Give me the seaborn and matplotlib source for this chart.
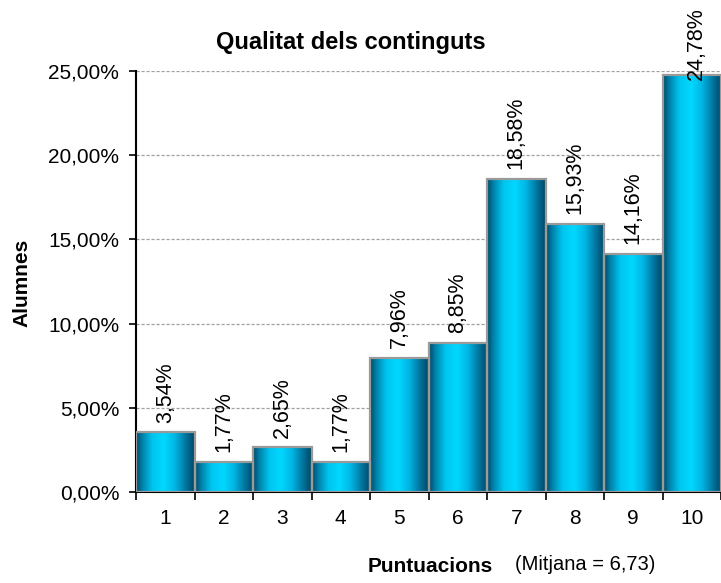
import numpy as np
import pandas as pd
import matplotlib
matplotlib.use("Agg")
import matplotlib.pyplot as plt
import matplotlib.transforms as mtransforms
from matplotlib.colors import LinearSegmentedColormap
import seaborn as sns

categories = ["1", "2", "3", "4", "5", "6", "7", "8", "9", "10"]
values = [3.54, 1.77, 2.65, 1.77, 7.96, 8.85, 18.58, 15.93, 14.16, 24.78]
labels = ["3,54%", "1,77%", "2,65%", "1,77%", "7,96%", "8,85%", "18,58%", "15,93%", "14,16%", "24,78%"]
yticks = [0, 5, 10, 15, 20, 25]
ytick_labels = ["0,00%", "5,00%", "10,00%", "15,00%", "20,00%", "25,00%"]

sns.set_theme(style="white")
plt.rcParams['font.family'] = ['Liberation Sans', 'DejaVu Sans']
plt.rcParams['text.color'] = 'black'
plt.rcParams['axes.labelcolor'] = 'black'
plt.rcParams['xtick.color'] = 'black'
plt.rcParams['ytick.color'] = 'black'

df = pd.DataFrame({"Puntuacio": categories, "Alumnes": values})

fig = plt.figure(figsize=(7.21, 5.83), dpi=100)
ax = fig.add_axes([136/721, 91/583, 1 - 136/721, (492-71)/583])

sns.barplot(data=df, x="Puntuacio", y="Alumnes", ax=ax, width=1.0,
            color="#00bfe8", edgecolor="#9a9a9a", linewidth=1.6, zorder=3)

cmap = LinearSegmentedColormap.from_list(
    "cyl", [(0.0, "#004a64"), (0.1, "#007ea6"), (0.28, "#00c6f0"), (0.48, "#00d8ff"),
            (0.66, "#00b6e4"), (0.86, "#00709a"), (1.0, "#00465f")])
grad = np.linspace(0, 1, 256).reshape(1, -1)
for p in ax.patches:
    x0, y0 = p.get_x(), p.get_y()
    w, h = p.get_width(), p.get_height()
    im = ax.imshow(grad, cmap=cmap, aspect="auto", extent=[x0, x0 + w, y0, y0 + h],
                   zorder=3.5, interpolation="bicubic")
    im.set_clip_path(p)
    p.set_facecolor("none")
    p.set_zorder(4)

ax.set_xlim(-0.5, 9.5)
ax.set_ylim(0, 25)
ax.set_yticks(yticks)
ax.set_yticklabels(ytick_labels, fontsize=15)
ax.yaxis.grid(True, linestyle=(0, (2.5, 1.5)), color="#a0a0a0", linewidth=0.9, zorder=0)
ax.set_axisbelow(True)

ax.set_xticks(range(len(categories)))
ax.set_xticklabels(categories, fontsize=15)
ax.set_xticks(np.arange(-0.5, 10, 1.0), minor=True)
ax.tick_params(axis="x", which="major", length=0, pad=12)
ax.tick_params(axis="x", which="minor", length=6, width=1.2, color="black", direction="out", bottom=True)
ax.tick_params(axis="y", which="major", length=5, width=1.2, color="black", direction="out", left=True, pad=7)

for s in ["top", "right"]:
    ax.spines[s].set_visible(False)
for s in ["left", "bottom"]:
    ax.spines[s].set_color("black")
    ax.spines[s].set_linewidth(1.5)

trans = mtransforms.blended_transform_factory(ax.transData, ax.transAxes)
for i, (v, lab) in enumerate(zip(values, labels)):
    if v > 24:
        ax.text(i + 0.08, 1.152, lab, rotation=90, ha="center", va="top",
                fontsize=15.5, transform=trans, zorder=6, clip_on=False)
    else:
        ax.annotate(lab, (i, v), xytext=(0, 7), textcoords="offset points",
                    rotation=90, ha="center", va="bottom", fontsize=15.5, zorder=6)

ax.set_xlabel("")
ax.set_ylabel("")
fig.text(22/721, 1 - 283/583, "Alumnes", rotation=90, ha="center", va="center",
         fontsize=15, fontweight="bold")

fig.text(351/721, 1 - 42/583, "Qualitat dels continguts", ha="center", va="center",
         fontsize=17, fontweight="bold")
fig.text(430/721, 1 - 566/583, "Puntuacions", ha="center", va="center",
         fontsize=15, fontweight="bold")
fig.text(585/721, 1 - 565/583, "(Mitjana = 6,73)", ha="center", va="center", fontsize=14.5)

fig.savefig("out.png", dpi=100)
